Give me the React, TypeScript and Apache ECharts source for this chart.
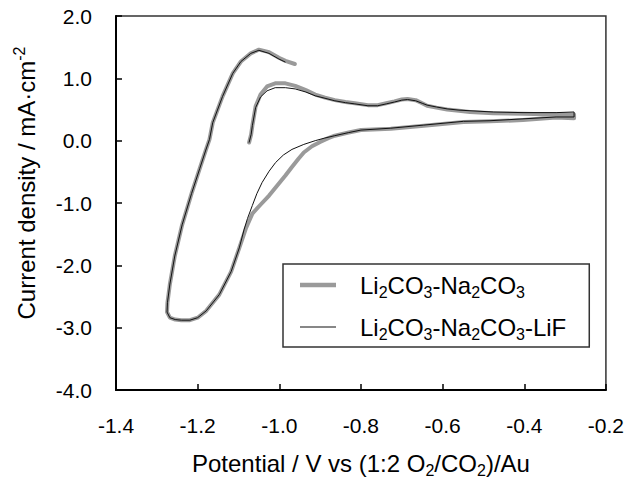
import React, { useEffect, useRef } from 'react';
import * as echarts from 'echarts';

// ---------- data (potential V, current density mA/cm2) ----------
const seriesNames = ['Li2CO3-Na2CO3', 'Li2CO3-Na2CO3-LiF'];

// Li2CO3-Na2CO3 (grey, thick)
const binaryForward: [number, number][] = [
  [-1.074, -0.03], [-1.069, 0.10], [-1.066, 0.24], [-1.058, 0.55], [-1.046, 0.74],
  [-1.030, 0.87], [-1.010, 0.92], [-0.985, 0.92], [-0.961, 0.88], [-0.935, 0.81],
  [-0.912, 0.74], [-0.888, 0.69], [-0.864, 0.65], [-0.838, 0.62], [-0.815, 0.60],
  [-0.783, 0.57], [-0.759, 0.57], [-0.738, 0.60], [-0.718, 0.63], [-0.700, 0.66],
  [-0.686, 0.67], [-0.666, 0.65], [-0.650, 0.60], [-0.638, 0.56], [-0.615, 0.53],
  [-0.589, 0.50], [-0.560, 0.48], [-0.533, 0.46], [-0.476, 0.44], [-0.403, 0.43],
  [-0.322, 0.42], [-0.278, 0.42],
];
const binaryReverse: [number, number][] = [
  [-0.278, 0.36], [-0.322, 0.37], [-0.403, 0.33], [-0.484, 0.31], [-0.549, 0.30],
  [-0.646, 0.24], [-0.727, 0.19], [-0.800, 0.17], [-0.830, 0.13], [-0.864, 0.08],
  [-0.880, 0.04], [-0.900, -0.02], [-0.920, -0.09], [-0.940, -0.19], [-0.953, -0.29],
  [-0.970, -0.43], [-0.985, -0.56], [-1.005, -0.72], [-1.025, -0.88], [-1.045, -1.02],
  [-1.066, -1.17], [-1.082, -1.41], [-1.098, -1.72], [-1.118, -2.10], [-1.147, -2.47],
  [-1.179, -2.73], [-1.200, -2.84], [-1.219, -2.88], [-1.240, -2.88], [-1.255, -2.87],
  [-1.268, -2.84], [-1.275, -2.75],
];
const binaryReturn: [number, number][] = [
  [-1.274, -2.60], [-1.268, -2.30], [-1.256, -1.85], [-1.238, -1.35], [-1.215, -0.85],
  [-1.195, -0.45], [-1.180, -0.15], [-1.171, 0.02], [-1.163, 0.29], [-1.139, 0.71],
  [-1.114, 1.08], [-1.094, 1.27], [-1.070, 1.40], [-1.050, 1.46], [-1.025, 1.42],
  [-1.001, 1.33], [-0.985, 1.28], [-0.962, 1.23],
];

// Li2CO3-Na2CO3-LiF (black, thin)
const ternaryForward: [number, number][] = [
  [-1.074, -0.03], [-1.069, 0.10], [-1.066, 0.24], [-1.058, 0.53], [-1.046, 0.70],
  [-1.030, 0.80], [-1.010, 0.85], [-0.985, 0.85], [-0.961, 0.83], [-0.935, 0.78],
  [-0.912, 0.72], [-0.888, 0.68], [-0.864, 0.64], [-0.838, 0.61], [-0.815, 0.59],
  [-0.783, 0.56], [-0.759, 0.56], [-0.738, 0.59], [-0.718, 0.62], [-0.700, 0.65],
  [-0.686, 0.66], [-0.666, 0.64], [-0.650, 0.60], [-0.638, 0.57], [-0.615, 0.54],
  [-0.589, 0.51], [-0.560, 0.49], [-0.533, 0.48], [-0.476, 0.46], [-0.403, 0.45],
  [-0.322, 0.45], [-0.278, 0.46],
];
const ternaryReverse: [number, number][] = [
  [-0.278, 0.38], [-0.322, 0.38], [-0.403, 0.35], [-0.484, 0.32], [-0.549, 0.31],
  [-0.646, 0.25], [-0.727, 0.20], [-0.800, 0.17], [-0.830, 0.13], [-0.864, 0.08],
  [-0.890, 0.04], [-0.912, 0.00], [-0.940, -0.06], [-0.969, -0.14], [-0.990, -0.23],
  [-1.009, -0.35], [-1.025, -0.49], [-1.042, -0.67], [-1.055, -0.85], [-1.066, -1.04],
  [-1.078, -1.25], [-1.086, -1.42], [-1.098, -1.72], [-1.118, -2.10], [-1.147, -2.47],
  [-1.179, -2.73], [-1.200, -2.84], [-1.219, -2.88], [-1.240, -2.88], [-1.255, -2.87],
  [-1.268, -2.84], [-1.275, -2.75],
];
const ternaryReturn: [number, number][] = [
  [-1.274, -2.60], [-1.268, -2.30], [-1.256, -1.85], [-1.238, -1.35], [-1.215, -0.85],
  [-1.195, -0.45], [-1.180, -0.15], [-1.171, 0.02], [-1.163, 0.29], [-1.139, 0.71],
  [-1.114, 1.08], [-1.094, 1.27], [-1.070, 1.40], [-1.050, 1.45], [-1.025, 1.40],
  [-1.001, 1.31], [-0.985, 1.26],
];

const FONT = '"Liberation Sans", Arial, Helvetica, sans-serif';

const toRich = (s: string) => s.replace(/(\d)/g, '{sub|$1}');

export default function App() {
  const ref = useRef<HTMLDivElement>(null);

  useEffect(() => {
    document.body.style.margin = '0';
    const chart = echarts.init(ref.current!, null, { renderer: 'svg' });

    const axisCommon = {
      type: 'value' as const,
      axisLine: { show: true, onZero: false, lineStyle: { color: '#000', width: 2 } },
      axisTick: { show: true, inside: true, length: 6, lineStyle: { color: '#000', width: 1.5 } },
      splitLine: { show: false },
    };

    chart.setOption({
      animation: false,
      backgroundColor: '#ffffff',
      textStyle: { fontFamily: FONT },
      grid: {
        left: 116, right: 17, top: 16, bottom: 90,
        show: true, borderColor: '#333', borderWidth: 1.5, containLabel: false,
      },
      xAxis: {
        ...axisCommon,
        min: -1.4, max: -0.2, interval: 0.2,
        axisLabel: {
          margin: 25, fontSize: 21, color: '#000', fontFamily: FONT,
          showMinLabel: true, showMaxLabel: true,
          formatter: (v: number) => v.toFixed(1),
        },
        name: 'Potential / V vs (1:2 O{sub|2}/CO{sub|2})/Au',
        nameLocation: 'middle',
        nameGap: 58,
        nameTextStyle: {
          fontSize: 24, color: '#000', fontFamily: FONT, lineHeight: 30,
          rich: { sub: { fontSize: 16, fontFamily: FONT, color: '#000', verticalAlign: 'bottom' } },
        },
      },
      yAxis: {
        ...axisCommon,
        min: -4, max: 2, interval: 1,
        axisLabel: {
          margin: 24, fontSize: 21, color: '#000', fontFamily: FONT,
          showMinLabel: true, showMaxLabel: true,
          formatter: (v: number) => v.toFixed(1),
        },
        name: 'Current density / mA·cm{sup|-2}',
        nameLocation: 'middle',
        nameGap: 75,
        nameTextStyle: {
          fontSize: 24, color: '#000', fontFamily: FONT, lineHeight: 30,
          padding: [0, 0, 0, 40],
          rich: { sup: { fontSize: 16, fontFamily: FONT, color: '#000', verticalAlign: 'top' } },
        },
      },
      legend: {
        orient: 'vertical',
        left: 283, top: 264,
        padding: [6, 23, 5, 17],
        itemWidth: 36, itemHeight: 14, itemGap: 12,
        symbolKeepAspect: true,
        borderColor: '#333', borderWidth: 1.5,
        backgroundColor: '#fff',
        data: [
          { name: seriesNames[0], icon: 'path://M0,0H36V4.5H0Z' },
          { name: seriesNames[1], icon: 'path://M0,0H36V1.2H0Z' },
        ],
        formatter: (name: string) => toRich(name),
        textStyle: {
          fontSize: 24, color: '#000', fontFamily: FONT, lineHeight: 30,
          padding: [0, 0, 0, 19],
          rich: { sub: { fontSize: 16, fontFamily: FONT, color: '#000', verticalAlign: 'bottom' } },
        },
      },
      series: [
        {
          name: seriesNames[0],
          type: 'line',
          symbol: 'none',
          showSymbol: false,
          lineStyle: { color: '#9a9a9a', width: 4, join: 'round', cap: 'round' },
          itemStyle: { color: '#9a9a9a' },
          data: [...binaryForward, ...binaryReverse, ...binaryReturn],
          z: 2,
        },
        {
          name: seriesNames[1],
          type: 'line',
          symbol: 'none',
          showSymbol: false,
          lineStyle: { color: '#111', width: 1, join: 'round' },
          itemStyle: { color: '#111' },
          data: [...ternaryForward, ...ternaryReverse, ...ternaryReturn],
          z: 3,
        },
      ],
    });

    return () => chart.dispose();
  }, []);

  return <div ref={ref} style={{ width: 627, height: 483 }} />;
}
